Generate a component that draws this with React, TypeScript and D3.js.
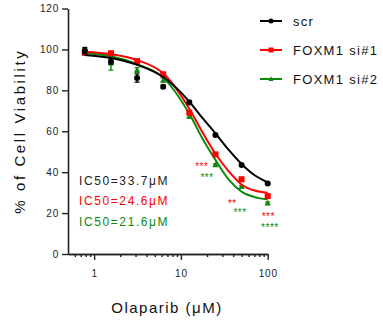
import { useEffect, useRef } from 'react';
import * as d3 from 'd3';

// Olaparib doses (uM), 2-fold dilution
const doses = [0.78125, 1.5625, 3.125, 6.25, 12.5, 25, 50, 100];

const seriesNames = ['scr', 'FOXM1 si#1', 'FOXM1 si#2'];
const seriesColors = ['#000000', '#ff0000', '#0a8a0a'];

// mean % viability
const scrValues = [99.4, 94.0, 86.0, 81.8, 74.1, 58.2, 43.5, 34.5];
const si1Values = [98.4, 98.1, 94.3, 87.8, 69.1, 48.7, 36.5, 28.3];
const si2Values = [98.9, 93.2, 89.9, 85.0, 67.4, 43.5, 32.9, 24.8];

// error bars (SEM)
const scrErrors = [1.6, 1.2, 2.0, 0.8, 1.0, 0.6, 0.6, 0.6];
const si1Errors = [1.0, 1.0, 1.0, 1.0, 1.0, 0.6, 1.0, 0.6];
const si2Errors = [1.5, 3.3, 1.2, 1.0, 1.0, 0.6, 0.6, 0.6];

// fitted curves
const fitDoses = [0.78125, 1.5625, 3.125, 6.25, 12.5, 17.7, 25, 35.4, 50, 70.7, 100];
const scrFit = [97.3, 95.8, 92.5, 86.5, 74.5, 66.5, 59.0, 51.0, 44.0, 38.5, 35.0];
const si1Fit = [98.9, 97.7, 94.8, 88.3, 71.0, 59.5, 49.0, 40.5, 34.0, 31.0, 30.0];
const si2Fit = [98.1, 96.7, 92.8, 86.2, 68.5, 56.5, 46.0, 36.5, 30.5, 27.8, 26.7];

const ic50Labels = ['IC50=33.7\u03bcM', 'IC50=24.6\u03bcM', 'IC50=21.6\u03bcM'];

// significance marks
const si1StarDoses = [17.4, 39.1, 101.6];
const si1StarValues = [44, 26, 19.4];
const si1StarLabels = ['***', '**', '***'];
const si2StarDoses = [20, 48, 106];
const si2StarValues = [38.3, 21.5, 14.2];
const si2StarLabels = ['***', '***', '****'];

const yTicks = [0, 20, 40, 60, 80, 100, 120];
const xMajorTicks = [1, 10, 100];
const xMinorTicks = [0.6, 0.7, 0.8, 0.9, 2, 3, 4, 5, 6, 7, 8, 9, 20, 30, 40, 50, 60, 70, 80, 90];

const FONT = 'Arial, "Liberation Sans", sans-serif';

const App = () => {
    const chartRef = useRef<SVGSVGElement>(null);

    useEffect(() => {
        if (!chartRef.current) return;
        d3.select(chartRef.current).selectAll('*').remove();

        const svg = d3.select(chartRef.current);

        const x = d3.scaleLog().domain([0.5, 100]).range([68, 267.7]);
        const y = d3.scaleLinear().domain([0, 120]).range([254, 8.5]);

        // Axes
        const yAxis = svg.append('g')
            .attr('transform', `translate(${x(0.5)},0)`)
            .call(d3.axisLeft(y).tickValues(yTicks).tickSize(6).tickPadding(3).tickSizeOuter(0));
        const xAxis = svg.append('g')
            .attr('transform', `translate(0,${y(0)})`)
            .call(d3.axisBottom(x).tickValues(xMajorTicks).tickFormat(d => `${d}`).tickSize(6).tickPadding(10).tickSizeOuter(0));
        svg.append('g')
            .attr('transform', `translate(0,${y(0)})`)
            .call(d3.axisBottom(x).tickValues(xMinorTicks).tickFormat(() => '').tickSize(3).tickSizeOuter(0));

        svg.selectAll('.domain').attr('stroke', '#222').attr('stroke-width', 1.6);
        svg.selectAll('.tick line').attr('stroke', '#222').attr('stroke-width', 1.4);
        [yAxis, xAxis].forEach(a => a.selectAll('text')
            .attr('font-family', FONT)
            .attr('font-size', 10)
            .attr('letter-spacing', 0.8)
            .attr('fill', '#222'));

        // Axis titles
        svg.append('text')
            .attr('transform', `translate(25,${(y(0) + y(120)) / 2}) rotate(-90)`)
            .attr('text-anchor', 'middle')
            .attr('font-family', FONT)
            .attr('font-size', 15)
            .attr('letter-spacing', 2.6)
            .attr('fill', '#111')
            .text('% of Cell Viability');

        svg.append('text')
            .attr('x', 167)
            .attr('y', 313)
            .attr('text-anchor', 'middle')
            .attr('font-family', FONT)
            .attr('font-size', 15)
            .attr('letter-spacing', 1.5)
            .attr('fill', '#111')
            .text('Olaparib (\u03bcM)');

        const values = [scrValues, si1Values, si2Values];
        const errors = [scrErrors, si1Errors, si2Errors];
        const fits = [scrFit, si1Fit, si2Fit];

        const line = d3.line<number>()
            .x((_, i) => x(fitDoses[i]))
            .y(d => y(d))
            .curve(d3.curveMonotoneX);

        const drawMarker = (g: d3.Selection<SVGGElement, unknown, null, undefined>, k: number, cx: number, cy: number, s: number) => {
            const color = seriesColors[k];
            if (k === 0) {
                g.append('circle').attr('cx', cx).attr('cy', cy).attr('r', s * 0.5).attr('fill', color);
            } else if (k === 1) {
                g.append('rect').attr('x', cx - s / 2).attr('y', cy - s / 2).attr('width', s).attr('height', s).attr('fill', color);
            } else {
                const h = s * 0.95;
                g.append('path')
                    .attr('d', `M${cx},${cy - h * 0.6}L${cx + s / 2},${cy + h * 0.4}L${cx - s / 2},${cy + h * 0.4}Z`)
                    .attr('fill', color);
            }
        };

        // draw green first, black on top
        [2, 1, 0].forEach(k => {
            const color = seriesColors[k];
            const g = svg.append('g');
            g.append('path')
                .attr('d', line(fits[k]))
                .attr('fill', 'none')
                .attr('stroke', color)
                .attr('stroke-width', 2);

            doses.forEach((d, i) => {
                const cx = x(d);
                const v = values[k][i];
                const e = errors[k][i];
                g.append('line')
                    .attr('x1', cx).attr('x2', cx)
                    .attr('y1', y(v - e)).attr('y2', y(v + e))
                    .attr('stroke', color).attr('stroke-width', 1.5);
                [v - e, v + e].forEach(t => g.append('line')
                    .attr('x1', cx - 2.5).attr('x2', cx + 2.5)
                    .attr('y1', y(t)).attr('y2', y(t))
                    .attr('stroke', color).attr('stroke-width', 1.2));
                drawMarker(g, k, cx, y(v), 6);
            });
        });

        // significance stars
        const stars = [
            { doses: si1StarDoses, values: si1StarValues, labels: si1StarLabels, color: seriesColors[1] },
            { doses: si2StarDoses, values: si2StarValues, labels: si2StarLabels, color: seriesColors[2] },
        ];
        stars.forEach(s => {
            s.doses.forEach((d, i) => {
                svg.append('text')
                    .attr('x', x(d))
                    .attr('y', y(s.values[i]) + 5.8)
                    .attr('text-anchor', 'middle')
                    .attr('font-family', FONT)
                    .attr('font-size', 10)
                    .attr('letter-spacing', 0.5)
                    .attr('fill', s.color)
                    .text(s.labels[i]);
            });
        });

        // IC50 labels
        ic50Labels.forEach((t, i) => {
            svg.append('text')
                .attr('x', 79)
                .attr('y', 184.5 + i * 20.5)
                .attr('font-family', FONT)
                .attr('font-size', 12)
                .attr('letter-spacing', 1.6)
                .attr('fill', seriesColors[i] === '#000000' ? '#222' : seriesColors[i])
                .text(t);
        });

        // Legend
        seriesNames.forEach((name, i) => {
            const ly = 21 + i * 29;
            const g = svg.append('g');
            g.append('line')
                .attr('x1', 260).attr('x2', 282)
                .attr('y1', ly).attr('y2', ly)
                .attr('stroke', seriesColors[i]).attr('stroke-width', 2);
            drawMarker(g, i, 271, ly, 5);
            g.append('text')
                .attr('x', 293)
                .attr('y', ly + 5)
                .attr('font-family', FONT)
                .attr('font-size', 13)
                .attr('letter-spacing', 1.3)
                .attr('fill', '#111')
                .text(name);
        });
    }, []);

    return (
        <svg
            ref={chartRef}
            width={383}
            height={324}
            style={{ position: 'absolute', left: 0, top: 0, background: '#fff' }}
        />
    );
};

export default App;
